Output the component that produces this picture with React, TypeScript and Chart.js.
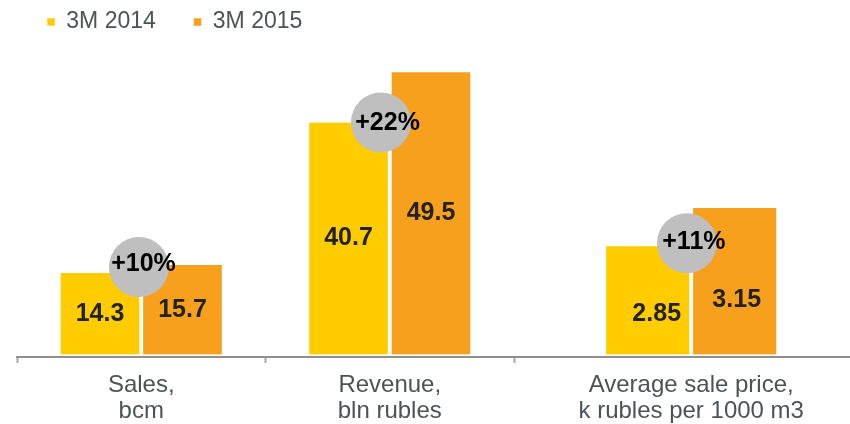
import { useEffect, useRef } from 'react';
import { Chart, registerables } from 'chart.js';

Chart.register(...registerables);

// ---------- data ----------
const seriesLabels = ['3M 2014', '3M 2015'];
const categoryLabels = [
  ['Sales,', 'bcm'],
  ['Revenue,', 'bln rubles'],
  ['Average sale price,', 'k rubles per 1000 m3'],
];
const values2014 = [14.3, 40.7, 2.85];
const values2015 = [15.7, 49.5, 3.15];
// categories plotted on the main value axis / on the price axis
const mainCategories = [0, 1];
const priceCategories = [2];

// ---------- layout / style ----------
const FONT = "'Liberation Sans', Arial, Helvetica, sans-serif";
const COLORS = ['#FFCC00', '#F7A01E'];
const GROUP_SHIFT = [0, 0, 0.213];
const MAIN_AXIS = { min: -0.4385, max: 49.73 };
const PRICE_AXIS = { min: 1.9804, max: 4.2253, base: 2 };
const LABEL_SHIFT = [
  [[0, 0], [0, 0]],
  [[0, 0], [0, 0]],
  [[9, 13.6], [2, 18.7]],
];
const BADGE = [
  { dx: -2.3, dy: -6, tdx: 4.5, tdy: -3 },
  { dx: -8.8, dy: 0, tdx: 6.6, tdy: 0.2 },
  { dx: -4.3, dy: -3, tdx: 7, tdy: -0.8 },
];

const boundaryTicks = categoryLabels.map((_, i) => i - 0.5);
const centerTicks = categoryLabels.map((_, i) => i + GROUP_SHIFT[i]);

const annotatePlugin = {
  id: 'annotate',
  afterLayout(chart: any) {
    const lg = chart.legend;
    if (lg) {
      lg.left = 9.3;
      lg.top = -27.5;
    }
  },
  afterDatasetsDraw(chart: any) {
    const ctx = chart.ctx as CanvasRenderingContext2D;
    ctx.save();
    ctx.textAlign = 'center';
    ctx.textBaseline = 'middle';
    ctx.font = `bold 25px ${FONT}`;
    ctx.fillStyle = '#222222';
    const elems: any[][] = categoryLabels.map(() => [null, null]);
    chart.data.datasets.forEach((ds: any, di: number) => {
      const meta = chart.getDatasetMeta(di);
      const series = ds.series as number;
      meta.data.forEach((el: any, j: number) => {
        const pt = ds.data[j];
        const cat = pt.cat as number;
        elems[cat][series] = el;
        const sh = LABEL_SHIFT[cat][series];
        const midY = (el.y + el.base) / 2;
        ctx.fillStyle = '#222222';
        ctx.fillText(String(pt.y), el.x + sh[0], midY + sh[1]);
      });
    });
    categoryLabels.forEach((_, i) => {
      const [a, b] = elems[i];
      if (!a || !b) return;
      const cfg = BADGE[i];
      const cx = (a.x + b.x) / 2 + cfg.dx;
      const cy = a.y + cfg.dy;
      ctx.beginPath();
      ctx.arc(cx, cy, 30, 0, Math.PI * 2);
      ctx.fillStyle = '#BFBFBF';
      ctx.fill();
      const growth = Math.round((values2015[i] / values2014[i] - 1) * 100);
      ctx.fillStyle = '#000000';
      ctx.font = `bold 25px ${FONT}`;
      ctx.fillText(`+${growth}%`, cx + cfg.tdx, cy + cfg.tdy);
    });
    ctx.restore();
  },
};

export default function App() {
  const ref = useRef<HTMLCanvasElement>(null);

  useEffect(() => {
    const canvas = ref.current;
    if (!canvas) return;
    const points = (vals: number[], cats: number[]) =>
      cats.map((c) => ({ x: c + GROUP_SHIFT[c], y: vals[c], cat: c }));
    const common = {
      borderColor: 'rgba(0,0,0,0)',
      borderWidth: { left: 2.25, right: 2.25, top: 0, bottom: 0 },
      skipNull: true,
    };
    const chart = new Chart(canvas, {
      type: 'bar',
      data: {
        datasets: [
          { ...common, label: seriesLabels[0], series: 0, data: points(values2014, mainCategories), backgroundColor: COLORS[0], yAxisID: 'y', barThickness: 82.5 },
          { ...common, label: seriesLabels[1], series: 1, data: points(values2015, mainCategories), backgroundColor: COLORS[1], yAxisID: 'y', barThickness: 82.5 },
          { ...common, label: seriesLabels[0], series: 0, data: points(values2014, priceCategories), backgroundColor: COLORS[0], yAxisID: 'y2', barThickness: 87, base: PRICE_AXIS.base },
          { ...common, label: seriesLabels[1], series: 1, data: points(values2015, priceCategories), backgroundColor: COLORS[1], yAxisID: 'y2', barThickness: 87, base: PRICE_AXIS.base },
        ] as any,
      },
      options: {
        responsive: false,
        animation: false,
        devicePixelRatio: 1,
        layout: { padding: { left: 17, right: 0, top: 0, bottom: 0 } },
        plugins: {
          tooltip: { enabled: false },
          legend: {
            display: true,
            position: 'top',
            align: 'start',
            labels: {
              boxWidth: 7.5,
              boxHeight: 7.5,
              padding: 38,
              color: '#4D5257',
              font: { size: 23, family: FONT },
              filter: (item: any) => item.datasetIndex < 2,
            },
          },
        },
        scales: {
          x: {
            type: 'linear',
            offset: false,
            bounds: 'data',
            min: -0.5,
            max: 2.852,
            afterBuildTicks: (axis: any) => {
              const vals = [...boundaryTicks, ...centerTicks].sort((p, q) => p - q);
              axis.ticks = vals.map((v) => ({ value: v }));
            },
            afterFit: (axis: any) => {
              axis.height = 67;
            },
            grid: {
              display: true,
              offset: false,
              drawOnChartArea: false,
              drawTicks: true,
              tickLength: 6,
              tickWidth: 2,
              tickColor: (c: any) =>
                c.tick && boundaryTicks.includes(c.tick.value) ? '#A6A6A6' : 'rgba(0,0,0,0)',
            },
            border: { display: true, color: '#8F8F8F', width: 2 },
            ticks: {
              autoSkip: false,
              maxRotation: 0,
              minRotation: 0,
              padding: 9,
              color: '#4D5257',
              font: { size: 24, family: FONT, lineHeight: 26 / 24 },
              callback: (value: any) => {
                const idx = centerTicks.indexOf(Number(value));
                return idx >= 0 ? categoryLabels[idx] : '';
              },
            },
          },
          y: { display: false, min: MAIN_AXIS.min, max: MAIN_AXIS.max },
          y2: { display: false, min: PRICE_AXIS.min, max: PRICE_AXIS.max },
        },
      } as any,
      plugins: [annotatePlugin],
    });
    return () => chart.destroy();
  }, []);

  return (
    <div style={{ position: 'absolute', left: 0, top: 0, width: 850, height: 424, background: '#FFFFFF' }}>
      <canvas ref={ref} width={850} height={424} style={{ display: 'block' }} />
    </div>
  );
}
